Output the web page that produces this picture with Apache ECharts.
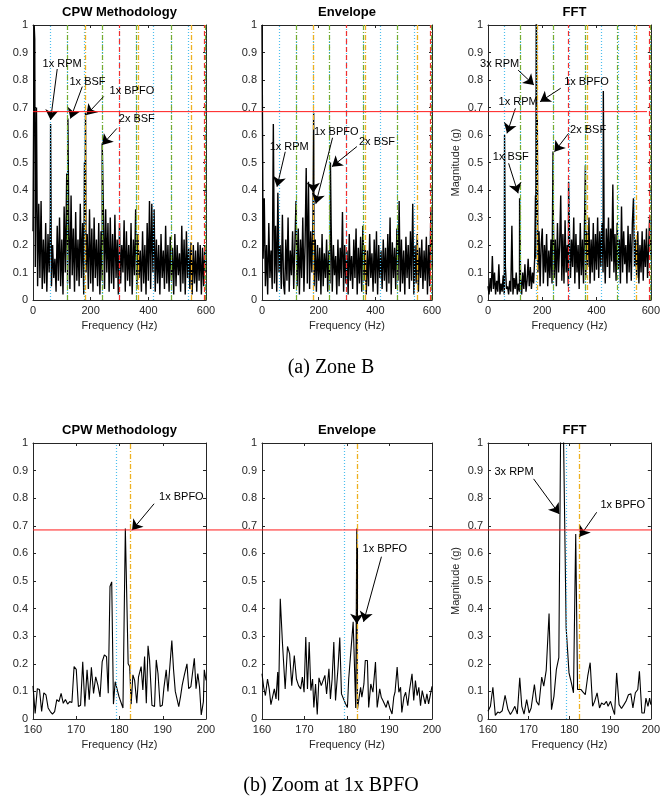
<!DOCTYPE html>
<html><head><meta charset="utf-8">
<script src="https://cdn.jsdelivr.net/npm/echarts@6/dist/echarts.min.js"></script>
<style>html,body{margin:0;padding:0;background:#fff}#c{width:663px;height:799px}</style>
</head><body><div id="c"></div>
<script>
// ---------- DATA ----------
const topStep = 4; // Hz between bins of the full-band spectra (0..600 Hz)
const cpwTop = [
 0.25,1.0,0.12,0.70,0.05,0.35,0.08,0.36,0.04,0.22,
 0.06,0.28,0.03,0.24,0.10,0.30,0.05,0.20,0.08,0.15,
 0.03,0.27,0.07,0.30,0.05,0.22,0.02,0.34,0.10,0.38,
 0.06,0.30,0.04,0.38,0.09,0.26,0.03,0.32,0.07,0.22,
 0.05,0.35,0.08,0.28,0.02,0.30,0.10,0.24,0.04,0.33,
 0.06,0.26,0.03,0.30,0.08,0.22,0.05,0.28,0.02,0.25,
 0.07,0.34,0.04,0.33,0.10,0.28,0.03,0.30,0.06,0.24,
 0.04,0.31,0.08,0.22,0.02,0.28,0.06,0.20,0.10,0.29,
 0.03,0.25,0.07,0.20,0.05,0.28,0.02,0.22,0.09,0.33,
 0.04,0.24,0.08,0.18,0.03,0.25,0.06,0.20,0.02,0.28,
 0.07,0.36,0.04,0.35,0.10,0.33,0.03,0.22,0.06,0.20,
 0.02,0.24,0.08,0.18,0.04,0.27,0.06,0.20,0.03,0.23,
 0.07,0.19,0.02,0.24,0.05,0.20,0.09,0.17,0.03,0.27,
 0.06,0.22,0.02,0.25,0.08,0.19,0.04,0.21,0.02,0.20,
 0.06,0.18,0.03,0.21,0.07,0.20,0.02,0.19,0.05,0.20,
 0.10];
const cpwTopPeaks = [[6,0.95],[61,0.64],[117,0.46],[121,0.66],[178.5,0.50],[182.3,0.68],[240,0.57]];

const envTop = [
 1.0,0.15,0.37,0.05,0.20,0.02,0.28,0.08,0.18,0.04,
 0.64,0.06,0.27,0.03,0.39,0.10,0.20,0.04,0.31,0.06,
 0.02,0.22,0.07,0.30,0.03,0.18,0.09,0.25,0.04,0.20,
 0.36,0.05,0.26,0.02,0.22,0.08,0.30,0.03,0.20,0.48,
 0.06,0.43,0.04,0.25,0.10,0.30,0.05,0.22,0.03,0.20,
 0.07,0.19,0.02,0.24,0.05,0.17,0.08,0.22,0.03,0.18,
 0.06,0.28,0.03,0.20,0.09,0.16,0.02,0.22,0.05,0.19,
 0.08,0.32,0.03,0.20,0.06,0.18,0.02,0.24,0.07,0.16,
 0.04,0.22,0.08,0.26,0.02,0.19,0.06,0.23,0.03,0.27,
 0.07,0.20,0.02,0.18,0.05,0.24,0.08,0.17,0.03,0.22,
 0.06,0.25,0.02,0.20,0.08,0.18,0.04,0.22,0.07,0.19,
 0.03,0.24,0.06,0.30,0.02,0.21,0.08,0.19,0.04,0.26,
 0.07,0.36,0.03,0.22,0.06,0.18,0.02,0.23,0.08,0.20,
 0.04,0.25,0.07,0.35,0.02,0.20,0.06,0.24,0.03,0.19,
 0.08,0.22,0.04,0.18,0.07,0.23,0.02,0.20,0.05,0.33,
 0.12];
const envTopPeaks = [[2,1.0],[182.3,0.68],[241.5,0.50]];

const fftTop = [
 0.05,0.02,0.08,0.03,0.16,0.04,0.10,0.02,0.07,0.03,
 0.13,0.02,0.06,0.03,0.09,0.02,0.12,0.04,0.05,0.02,
 0.07,0.03,0.27,0.02,0.08,0.04,0.10,0.02,0.06,0.03,
 0.08,0.02,0.10,0.04,0.13,0.03,0.07,0.15,0.05,0.12,
 0.04,0.10,0.06,0.15,0.15,0.30,0.10,0.25,0.05,0.20,
 0.26,0.06,0.20,0.10,0.24,0.05,0.18,0.08,0.22,0.06,
 0.35,0.08,0.22,0.05,0.28,0.10,0.20,0.38,0.07,0.24,
 0.06,0.29,0.10,0.20,0.05,0.26,0.08,0.22,0.12,0.30,
 0.06,0.24,0.10,0.20,0.04,0.28,0.09,0.22,0.06,0.30,
 0.08,0.25,0.12,0.30,0.06,0.22,0.10,0.28,0.07,0.24,
 0.11,0.30,0.08,0.25,0.12,0.28,0.10,0.22,0.06,0.26,
 0.12,0.30,0.08,0.26,0.14,0.42,0.10,0.24,0.07,0.28,
 0.11,0.22,0.06,0.34,0.10,0.25,0.13,0.20,0.06,0.27,
 0.10,0.24,0.07,0.28,0.37,0.12,0.22,0.08,0.25,0.06,
 0.20,0.10,0.25,0.07,0.22,0.12,0.26,0.08,0.20,0.31,
 0.15];
const fftTopPeaks = [[61,0.60],[116.5,0.37],[175,0.38],[177.9,1.10],[178.6,1.05],[181.6,0.67],[239.5,0.54],[297,0.43],[359,0.49],[425,0.76]];

// zoomed spectra 160..200 Hz: [frequency (Hz), magnitude]
const cpwZoom = [[160.0,0.12],[160.5,0.02],[161.0,0.11],[161.5,0.107],[162.0,0.027],[162.5,0.095],[163.0,0.087],[163.5,0.04],[164.0,0.027],[164.5,0.018],[165.0,0.027],[165.5,0.07],[166.0,0.063],[166.5,0.093],[167.0,0.057],[167.5,0.071],[168.0,0.054],[168.5,0.063],[169.0,0.06],[169.5,0.19],[170.0,0.18],[170.5,0.045],[171.0,0.05],[171.5,0.207],[172.0,0.045],[172.5,0.178],[173.0,0.07],[173.5,0.187],[174.0,0.093],[174.5,0.153],[175.0,0.123],[175.5,0.08],[176.0,0.208],[176.5,0.232],[177.0,0.226],[177.4,0.093],[177.8,0.48],[178.2,0.497],[178.6,0.054],[179.0,0.135],[179.4,0.13],[179.9,0.08],[180.3,0.085],[180.8,0.04],[181.1,0.035],[181.35,0.69],[181.75,0.69],[182.0,0.2],[182.35,0.19],[182.7,0.054],[183.1,0.16],[183.5,0.14],[184.0,0.057],[184.4,0.153],[184.8,0.147],[185.0,0.19],[185.4,0.105],[185.8,0.226],[186.2,0.057],[186.6,0.265],[186.95,0.214],[187.5,0.05],[188.1,0.045],[188.5,0.214],[188.9,0.165],[189.4,0.045],[189.9,0.05],[190.25,0.11],[190.8,0.178],[191.2,0.1],[191.55,0.1],[192.1,0.284],[192.5,0.178],[192.9,0.1],[193.2,0.093],[193.7,0.045],[194.1,0.08],[194.5,0.123],[195.0,0.16],[195.6,0.2],[196.0,0.11],[196.5,0.117],[196.9,0.11],[197.3,0.22],[197.7,0.11],[198.1,0.165],[198.5,0.117],[198.9,0.015],[199.4,0.063],[199.6,0.178],[200.0,0.14]];

const envZoom = [[160.0,0.164],[160.4,0.115],[160.8,0.085],[161.3,0.145],[161.7,0.109],[162.1,0.052],[162.5,0.055],[162.9,0.109],[163.3,0.073],[163.7,0.17],[163.9,0.067],[164.3,0.436],[164.8,0.279],[165.45,0.109],[166.0,0.263],[166.5,0.236],[167.0,0.121],[167.6,0.23],[168.1,0.145],[168.6,0.121],[169.1,0.109],[169.5,0.152],[169.9,0.097],[170.3,0.297],[170.7,0.109],[171.1,0.279],[171.5,0.103],[171.9,0.145],[172.2,0.042],[172.6,0.127],[173.0,0.016],[173.4,0.149],[173.95,0.121],[174.4,0.115],[174.8,0.158],[175.2,0.091],[175.75,0.182],[176.1,0.073],[176.5,0.145],[176.9,0.279],[177.3,0.067],[177.9,0.188],[178.3,0.295],[178.7,0.091],[179.1,0.085],[179.65,0.055],[180.1,0.042],[180.4,0.145],[180.7,0.152],[181.45,0.352],[182.05,0.04],[182.3,0.69],[182.45,0.035],[182.75,0.067],[183.2,0.115],[183.5,0.079],[183.98,0.127],[184.3,0.212],[184.8,0.212],[185.1,0.042],[185.6,0.127],[186.1,0.097],[186.7,0.206],[187.1,0.042],[187.7,0.109],[188.06,0.079],[188.45,0.067],[188.8,0.073],[189.2,0.042],[189.6,0.067],[190.15,0.036],[190.6,0.018],[191.0,0.079],[191.3,0.097],[191.8,0.188],[192.2,0.097],[192.6,0.115],[192.9,0.024],[193.4,0.079],[193.8,0.097],[194.3,0.048],[194.7,0.103],[195.3,0.164],[195.7,0.067],[196.1,0.139],[196.5,0.085],[196.9,0.115],[197.3,0.048],[197.7,0.103],[198.0,0.1],[198.4,0.055],[198.8,0.091],[199.2,0.055],[199.6,0.055],[200.0,0.118]];

const fftZoom = [[160.0,0.028],[160.6,0.046],[161.2,0.115],[161.8,0.013],[162.4,0.025],[162.9,0.022],[163.5,0.03],[164.2,0.086],[164.9,0.034],[165.5,0.016],[166.0,0.028],[166.6,0.046],[167.2,0.018],[167.8,0.149],[168.3,0.046],[168.85,0.018],[169.5,0.07],[170.1,0.022],[170.6,0.04],[171.4,0.125],[171.9,0.064],[172.5,0.05],[173.2,0.152],[173.7,0.119],[174.3,0.176],[175.0,0.382],[175.6,0.034],[176.2,0.082],[176.8,0.18],[177.4,0.222],[177.9,1.15],[178.5,1.08],[179.2,0.33],[179.9,0.167],[180.5,0.13],[181.0,0.095],[181.55,0.67],[182.0,0.107],[182.8,0.107],[183.3,0.098],[183.9,0.088],[184.5,0.155],[185.1,0.204],[185.7,0.046],[186.2,0.064],[186.8,0.095],[187.4,0.04],[187.9,0.058],[188.5,0.052],[189.1,0.064],[189.5,0.046],[190.1,0.064],[190.7,0.034],[191.1,0.016],[191.6,0.167],[192.2,0.052],[192.8,0.038],[193.4,0.052],[193.9,0.064],[194.5,0.088],[195.1,0.091],[195.6,0.04],[196.2,0.095],[196.8,0.107],[197.2,0.173],[197.8,0.022],[198.4,0.022],[198.8,0.076],[199.3,0.046],[199.7,0.076],[200.0,0.052]];

// fault-frequency marker lines (Hz)
const rpmHarmonics = [59.8,119.5,179.3,239.1,298.9,358.6,418.4,478.2,537.9,597.7];
const bsfHarmonics = [119.5,239.0,358.5,478.0,597.5];
const bpfoHarmonics = [182.4,364.8,547.2];
const redMarks = [297.5,594.5];
const threshold = 0.685;

// annotations: [text, textFreq, textMag, arrowFromFreq, arrowFromMag, arrowToFreq, arrowToMag]
const annCpwTop = [['1x RPM',101,0.86,84,0.84,61,0.655],['1x BSF',189,0.794,171,0.776,130,0.66],['1x BPFO',343,0.761,245,0.74,185,0.673],['2x BSF',360,0.657,291,0.624,240,0.564]];
const annEnvTop = [['1x RPM',96,0.558,82,0.539,53,0.412],['1x BPFO',262,0.612,249,0.59,190,0.35],['',0,0,181,0.62,181,0.39],['2x BSF',406,0.576,335,0.558,247,0.485]];
const annFftTop = [['3x RPM',43,0.857,111,0.836,169,0.782],['1x BPFO',363,0.794,268,0.77,192,0.721],['1x RPM',111,0.721,101,0.697,70,0.606],['2x BSF',369,0.62,297,0.606,245,0.539],['1x BSF',84,0.521,76,0.497,111,0.388]];
const annCpwZoom = [['1x BPFO',194.3,0.803,188,0.78,182.9,0.684]];
const annEnvZoom = [['1x BPFO',188.9,0.616,188.1,0.588,183.9,0.352],['',0,0,182.3,0.62,182.3,0.345]];
const annFftZoom = [['3x RPM',166.4,0.895,171.2,0.87,177.5,0.743],['1x BPFO',193.1,0.777,186.7,0.749,182.5,0.66]];

// ---------- BUILD ----------
const SANS = '"Liberation Sans", Arial, Helvetica, sans-serif';
const SERIF = '"Liberation Serif", "Times New Roman", serif';
const AX = '#262626';

function mergeTop(vals, peaks){
  const pts = vals.map((v,i)=>[i*topStep, v]);
  peaks.forEach(p=>pts.push(p.slice()));
  pts.sort((a,b)=>a[0]-b[0]);
  return pts;
}

const colLeft = [33, 262, 488], colWidth = [173, 170, 173];
const rowTop = [25, 443], rowHeight = [275, 276];

const panels = [
 {title:'CPW Methodology', row:0, col:0, xr:[0,600,200], data:mergeTop(cpwTop,cpwTopPeaks), ann:annCpwTop},
 {title:'Envelope', row:0, col:1, xr:[0,600,200], data:mergeTop(envTop,envTopPeaks), ann:annEnvTop},
 {title:'FFT', row:0, col:2, xr:[0,600,200], data:mergeTop(fftTop,fftTopPeaks), ann:annFftTop, ylab:true},
 {title:'CPW Methodology', row:1, col:0, xr:[160,200,10], data:cpwZoom, ann:annCpwZoom},
 {title:'Envelope', row:1, col:1, xr:[160,200,10], data:envZoom, ann:annEnvZoom},
 {title:'FFT', row:1, col:2, xr:[160,200,10], data:fftZoom, ann:annFftZoom, ylab:true}
];

const grid=[], xAxis=[], yAxis=[], series=[];
const markerStyles = [
  [rpmHarmonics, {color:'#4DBEEE', type:[1,2], width:1.2}],
  [bsfHarmonics, {color:'#77AC30', type:[5,2,1,2], width:1.2}],
  [bpfoHarmonics, {color:'#EDB120', type:[5,2,1,2], width:1.3}],
  [redMarks, {color:'#F03030', type:[5,3], width:1.2}]
];

panels.forEach((p,i)=>{
  grid.push({left:colLeft[p.col], top:rowTop[p.row], width:colWidth[p.col], height:rowHeight[p.row], containLabel:false});
  const [xmin,xmax,xint] = p.xr;
  const lineS = {show:true, onZero:false, lineStyle:{color:AX, width:1}};
  const tickS = {show:true, inside:true, length:3, lineStyle:{color:AX}};
  xAxis.push({gridIndex:i, type:'value', position:'bottom', min:xmin, max:xmax, interval:xint,
    axisLine:lineS, axisTick:tickS, splitLine:{show:false},
    axisLabel:{color:AX, fontSize:11, fontFamily:SANS, margin:5},
    name:'Frequency (Hz)', nameLocation:'middle', nameGap:20,
    nameTextStyle:{color:AX, fontSize:11, fontFamily:SANS}});
  xAxis.push({gridIndex:i, type:'value', position:'top', min:xmin, max:xmax, interval:xint,
    axisLine:lineS, axisTick:tickS, splitLine:{show:false}, axisLabel:{show:false}});
  yAxis.push({gridIndex:i, type:'value', position:'left', min:0, max:1, interval:0.1,
    axisLine:lineS, axisTick:tickS, splitLine:{show:false},
    axisLabel:{color:AX, fontSize:11, fontFamily:SANS, margin:5},
    name: p.ylab ? 'Magnitude (g)' : '', nameLocation:'middle', nameGap:27, nameRotate:90,
    nameTextStyle:{color:AX, fontSize:11, fontFamily:SANS}});
  yAxis.push({gridIndex:i, type:'value', position:'right', min:0, max:1, interval:0.1,
    axisLine:lineS, axisTick:tickS, splitLine:{show:false}, axisLabel:{show:false}});

  const xi = 2*i, yi = 2*i;
  series.push({type:'line', xAxisIndex:xi, yAxisIndex:yi, data:p.data, symbol:'none', showSymbol:false,
    lineStyle:{color:'#000', width: p.row===0 ? 1.4 : 1.1}, clip:true, z:2, silent:true, animation:false});

  const mlines = [];
  markerStyles.forEach(([arr, st])=>{
    arr.filter(f=>f>=xmin && f<=xmax).forEach(f=>mlines.push({xAxis:f, lineStyle:st}));
  });
  series.push({type:'line', xAxisIndex:xi, yAxisIndex:yi, data:[], z:3, silent:true, animation:false,
    markLine:{symbol:'none', silent:true, animation:false, label:{show:false}, data:mlines}});

  const arrows = p.ann.map(a=>[
    {coord:[a[3],a[4]], symbol:'none'},
    {coord:[a[5],a[6]], symbol:'arrow', symbolSize:10}
  ]);
  const texts = p.ann.filter(a=>a[0]).map(a=>({name:a[0], coord:[a[1],a[2]]}));
  series.push({type:'line', xAxisIndex:xi, yAxisIndex:yi, data:[], z:4, silent:true, animation:false,
    markLine:{symbol:['none','arrow'], symbolSize:10, silent:true, animation:false, label:{show:false},
      lineStyle:{color:'#000', width:1, type:'solid'}, data:arrows},
    markPoint:{symbol:'circle', symbolSize:0, silent:true, animation:false,
      itemStyle:{color:'rgba(0,0,0,0)'},
      label:{show:true, position:'inside', formatter:'{b}', color:'#000', fontSize:11, fontFamily:SANS},
      data:texts}});
});

const chart = echarts.init(document.getElementById('c'), null, {renderer:'canvas'});
chart.setOption({animation:false, backgroundColor:'#fff', grid, xAxis, yAxis, series});

// titles, captions and threshold lines placed from the library's own layout
const graphic = [];
panels.forEach((p,i)=>{
  const cx = colLeft[p.col] + colWidth[p.col]/2;
  graphic.push({type:'text', x:cx, y:rowTop[p.row]-6, style:{text:p.title, textAlign:'center', textVerticalAlign:'bottom',
    fill:'#000', font:'bold 13px '+SANS}});
});
const capY = [rowTop[0]+rowHeight[0]+66, rowTop[1]+rowHeight[1]+66];
graphic.push({type:'text', x:331, y:capY[0]+2, style:{text:'(a) Zone B', textAlign:'center', textVerticalAlign:'middle', fill:'#000', font:'20px '+SERIF}});
graphic.push({type:'text', x:331, y:capY[1]+1, style:{text:'(b) Zoom at 1x BPFO', textAlign:'center', textVerticalAlign:'middle', fill:'#000', font:'20px '+SERIF}});

const a0 = chart.convertToPixel({gridIndex:0}, [0, threshold]);
const b0 = chart.convertToPixel({gridIndex:2}, [586, threshold]);
const a1 = chart.convertToPixel({gridIndex:3}, [160, threshold]);
const b1 = chart.convertToPixel({gridIndex:5}, [200, threshold]);
graphic.push({type:'line', z:100, shape:{x1:a0[0], y1:a0[1], x2:b0[0], y2:b0[1]}, style:{stroke:'#FF1A1A', lineWidth:1}});
graphic.push({type:'line', z:100, shape:{x1:a1[0], y1:a1[1], x2:b1[0]+1, y2:b1[1]}, style:{stroke:'#FF1A1A', lineWidth:1}});
chart.setOption({graphic});
</script>
</body></html>
